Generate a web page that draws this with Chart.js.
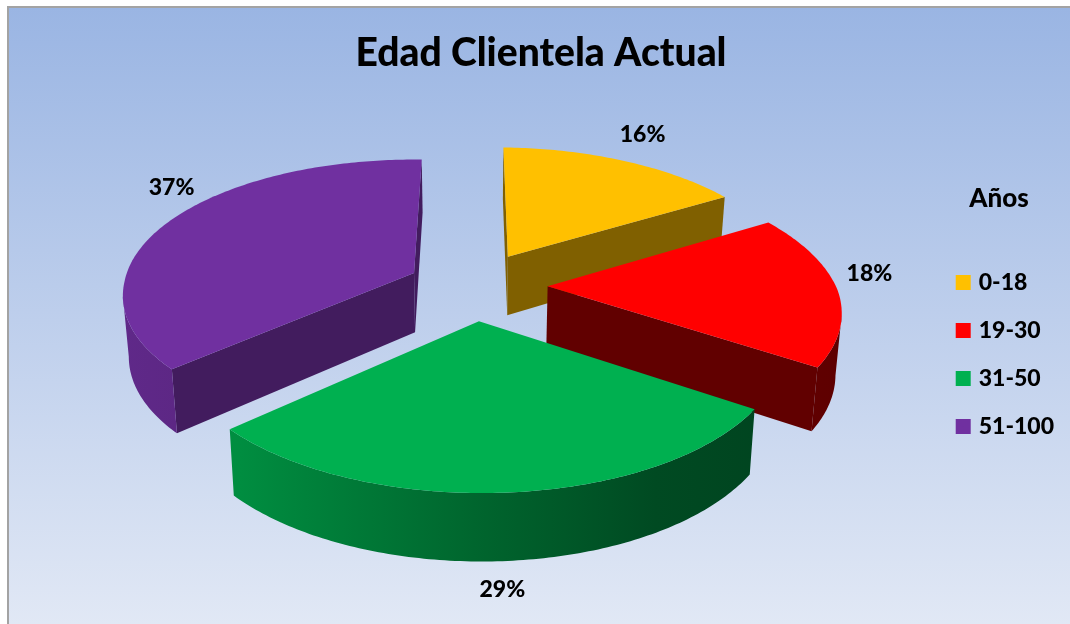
<!DOCTYPE html>
<html lang="es">
<head>
<meta charset="utf-8">
<title>Edad Clientela Actual</title>
<script src="https://cdn.jsdelivr.net/npm/chart.js@4"></script>
<style>
  html, body { margin: 0; padding: 0; background: #fff; }
  #wrap { width: 1070px; height: 624px; }
</style>
</head>
<body>
<div id="wrap"><canvas id="pie"></canvas></div>
<script>
// Age bands and their share of the customer base
const categories = ['0-18', '19-30', '31-50', '51-100'];
const shares = [16, 18, 29, 37];
const sliceColors = ['#FFC000', '#FF0000', '#00B050', '#7030A0'];
const sliceOffsets = [72, 72, 72, 63];

const FONT = 'Lato, "Open Sans", sans-serif';

// Viewing model for the tilted, extruded pie
const view = {
  shiftX: -3,       // pie centre relative to the layout centre
  shiftY: -38,
  stretch: 1.035,   // horizontal scale of the pie plane
  tilt: 0.478,      // foreshortening of the pie plane
  perspective: 0.00054,
  skew: 0.02,       // leftward drift of the near half
  roll: 0.012,      // slight clockwise roll of the plane
  depth: 60,        // height of the extrusion on screen
  depthGrowth: 0.0004,
  converge: 0.017,
  steps: 140
};

function shade(hex, f) {
  const n = parseInt(hex.slice(1), 16);
  const c = [(n >> 16) & 255, (n >> 8) & 255, n & 255].map(v => Math.round(v * f));
  return `rgb(${c[0]},${c[1]},${c[2]})`;
}

function project(cx, cy, X, Y, Z) {
  const w = 1 - Y * view.perspective;
  const px = X * view.stretch / w;
  return {
    x: cx + px * (1 - Z * view.converge) - Math.max(0, Y) * view.skew,
    y: cy + (Y * view.tilt) / w + px * view.roll + Z * view.depth * (1 + Y * view.depthGrowth)
  };
}

function poly(ctx, pts, fill) {
  ctx.beginPath();
  pts.forEach((p, i) => (i ? ctx.lineTo(p.x, p.y) : ctx.moveTo(p.x, p.y)));
  ctx.closePath();
  ctx.fillStyle = fill;
  ctx.fill();
}

// Geometry of one arc element as laid out by the doughnut controller
function sliceGeometry(arc) {
  const { x, y, startAngle, endAngle, outerRadius } = arc.getProps(['x', 'y', 'startAngle', 'endAngle', 'outerRadius'], false);
  const mid = (startAngle + endAngle) / 2;
  const off = arc.options.offset || 0;
  const ax = Math.cos(mid) * off;
  const ay = Math.sin(mid) * off;
  return { cx: x + view.shiftX, cy: y + view.shiftY, start: startAngle, end: endAngle, r: outerRadius, ax, ay, mid };
}

function rimPoint(g, a, z) {
  return project(g.cx, g.cy, g.ax + Math.cos(a) * g.r, g.ay + Math.sin(a) * g.r, z);
}

function drawSlice(ctx, arc, radialShade, wallStops, spanLeft, spanRight) {
  const g = sliceGeometry(arc);
  const color = arc.options.backgroundColor;
  const n = Math.max(4, Math.round(view.steps * (g.end - g.start) / (Math.PI * 2) * 3));
  const angles = [];
  for (let i = 0; i <= n; i++) angles.push(g.start + (g.end - g.start) * i / n);
  const top = angles.map(a => rimPoint(g, a, 0));
  const bottom = angles.map(a => rimPoint(g, a, 1));
  const apexTop = project(g.cx, g.cy, g.ax, g.ay, 0);
  const apexBottom = project(g.cx, g.cy, g.ax, g.ay, 1);
  const midTop = rimPoint(g, g.mid, 0);

  // Radial walls: only the faces turned towards the viewer
  [[top[0], bottom[0]], [top[n], bottom[n]]].forEach(([t, b]) => {
    const ex = t.x - apexTop.x, ey = t.y - apexTop.y;
    const sideMid = ex * (midTop.y - apexTop.y) - ey * (midTop.x - apexTop.x);
    const sideDown = ex;
    if (sideMid * sideDown < 0) {
      poly(ctx, [apexTop, t, b, apexBottom], shade(color, radialShade));
    }
  });

  // Curved outer wall: the part of the rim that runs right to left on screen
  let first = -1, last = -1;
  for (let i = 0; i < n; i++) {
    if (top[i + 1].x < top[i].x) {
      if (first < 0) first = i;
      last = i + 1;
    }
  }
  if (first >= 0) {
    const grad = ctx.createLinearGradient(spanLeft, 0, spanRight, 0);
    wallStops.forEach(([pos, f]) => grad.addColorStop(pos, shade(color, f)));
    const pts = top.slice(first, last + 1).concat(bottom.slice(first, last + 1).reverse());
    poly(ctx, pts, grad);
  }

  // Top face
  poly(ctx, [apexTop].concat(top), color);
}

const pie3d = {
  id: 'pie3d',
  beforeDatasetsDraw(chart, args, opts) {
    const { ctx } = chart;
    const arcs = chart.getDatasetMeta(0).data;
    const g = sliceGeometry(arcs[0]);
    const reach = (g.r + (arcs[0].options.offset || 0)) * view.stretch;
    ctx.save();
    arcs.forEach((arc, i) => {
      drawSlice(ctx, arc, opts.radialShade[i], opts.wallStops, g.cx - reach, g.cx + reach);
    });
    ctx.restore();
    return false;
  }
};

// Percentage labels anchored to the projected rim at each slice's mid angle
const sliceLabels = {
  id: 'sliceLabels',
  afterDraw(chart, args, opts) {
    const { ctx } = chart;
    const arcs = chart.getDatasetMeta(0).data;
    const total = shares.reduce((a, b) => a + b, 0);
    ctx.save();
    ctx.font = opts.font;
    ctx.fillStyle = '#000';
    ctx.textAlign = 'center';
    ctx.textBaseline = 'middle';
    arcs.forEach((arc, i) => {
      const g = sliceGeometry(arc);
      const p = rimPoint(g, g.mid, 0);
      const [dx, dy] = opts.nudge[i];
      ctx.fillText(Math.round(shares[i] / total * 100) + '%', p.x + dx, p.y + dy);
    });
    ctx.restore();
  }
};

// Framed gradient panel behind the chart
const panel = {
  id: 'panel',
  beforeDraw(chart, args, opts) {
    const { ctx, width, height } = chart;
    ctx.save();
    ctx.fillStyle = '#ffffff';
    ctx.fillRect(0, 0, width, height);
    ctx.fillStyle = opts.frame;
    ctx.fillRect(opts.left - 2, opts.top - 2, width, height);
    const grad = ctx.createLinearGradient(0, opts.top, 0, height);
    grad.addColorStop(0, opts.from);
    grad.addColorStop(1, opts.to);
    ctx.fillStyle = grad;
    ctx.fillRect(opts.left, opts.top, width, height);
    ctx.restore();
  }
};

new Chart(document.getElementById('pie'), {
  type: 'pie',
  data: {
    labels: categories,
    datasets: [{
      data: shares,
      backgroundColor: sliceColors,
      borderWidth: 0,
      offset: sliceOffsets
    }]
  },
  plugins: [panel, pie3d, sliceLabels],
  options: {
    responsive: true,
    maintainAspectRatio: false,
    animation: false,
    radius: 280,
    layout: { padding: { left: 18, right: 6, top: 0, bottom: 84 } },
    plugins: {
      tooltip: { enabled: false },
      title: {
        display: true,
        text: 'Edad Clientela Actual',
        color: '#000',
        font: { family: FONT, size: 39, weight: 900 },
        padding: { top: 30, bottom: 30 }
      },
      legend: {
        position: 'right',
        title: {
          display: true,
          text: 'Años',
          color: '#000',
          font: { family: FONT, size: 26, weight: 900 },
          padding: { top: 109, bottom: 29 }
        },
        labels: {
          color: '#000',
          font: { family: FONT, size: 23, weight: 900 },
          boxWidth: 8,
          boxHeight: 8,
          padding: 25,
          generateLabels(chart) {
            // Square swatches: a thick stroke in the same colour fills out the box
            return Chart.overrides.pie.plugins.legend.labels.generateLabels.call(this, chart)
              .map(item => ({ ...item, lineWidth: 7, strokeStyle: item.fillStyle }));
          }
        }
      },
      panel: { left: 9, top: 8, frame: '#A3A3A3', from: '#9AB5E3', to: '#E1E8F5' },
      pie3d: {
        radialShade: [0.5, 0.38, 0.4, 0.59],
        wallStops: [[0, 0.86], [0.18, 0.8], [0.5, 0.58], [0.75, 0.42], [1, 0.37]]
      },
      sliceLabels: {
        font: `900 23px ${FONT}`,
        nudge: [[19, -26], [32, -16], [-6, 97], [2, -34]]
      }
    }
  }
});
</script>
</body>
</html>
